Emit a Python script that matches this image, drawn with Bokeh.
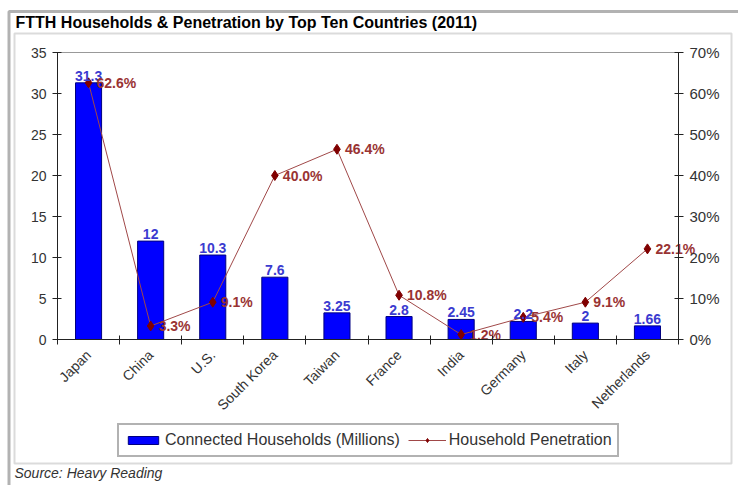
from math import pi
from bokeh.plotting import figure
from bokeh.models import (Range1d, LinearAxis, FixedTicker, PrintfTickFormatter,
                          Label, BoxAnnotation, Legend, LegendItem, ColumnDataSource)
from bokeh.core.properties import value
from bokeh.embed import file_html
from bokeh.resources import INLINE

countries = ["Japan", "China", "U.S.", "South Korea", "Taiwan", "France",
             "India", "Germany", "Italy", "Netherlands"]
households = [31.3, 12, 10.3, 7.6, 3.25, 2.8, 2.45, 2.2, 2, 1.66]
household_labels = ["31.3", "12", "10.3", "7.6", "3.25", "2.8", "2.45", "2.2", "2", "1.66"]
penetration = [62.6, 3.3, 9.1, 40.0, 46.4, 10.8, 1.2, 5.4, 9.1, 22.1]
penetration_labels = ["62.6%", "3.3%", "9.1%", "40.0%", "46.4%", "10.8%",
                      "1.2%", "5.4%", "9.1%", "22.1%"]
left_ticks = [0, 5, 10, 15, 20, 25, 30, 35]
right_ticks = [0, 10, 20, 30, 40, 50, 60, 70]

FONT = "Liberation Sans"
W, H = 738, 485
xs = list(range(len(countries)))

# pixel geometry of the plot area inside the canvas
PL, PR, PT, PB = 57.0, 678.0, 52.0, 339.0
n = len(countries)
cw = (PR - PL) / n            # px per category
uy = (PB - PT) / 35.0         # px per left-axis unit
x0 = -0.5 - PL / cw
x1 = n - 0.5 + (W - PR) / cw
y0 = -(H - PB) / uy
y1 = 35 + PT / uy


def sy(page_y):
    return H - page_y


src = ColumnDataSource(data=dict(x=xs, hh=households, hhl=household_labels,
                                 pen=penetration, penl=penetration_labels))

p = figure(width=W, height=H, output_backend="svg", toolbar_location=None,
           title=None, x_range=Range1d(x0, x1), y_range=Range1d(y0, y1),
           min_border=0)
p.extra_y_ranges = {"pct": Range1d(2 * y0, 2 * y1)}
p.background_fill_color = "white"
p.border_fill_color = "white"
p.outline_line_color = None
p.xgrid.visible = False
p.ygrid.visible = False

# left axis
ya = p.yaxis[0]
ya.fixed_location = -0.5
ya.bounds = (0, 35)
ya.ticker = FixedTicker(ticks=left_ticks)
ya.major_tick_in = 4
ya.major_tick_out = 5
ya.minor_tick_line_color = None
ya.axis_line_color = "#222222"
ya.major_tick_line_color = "#222222"
ya.major_label_text_font = FONT
ya.major_label_text_font_size = "14px"
ya.major_label_text_color = "#333333"
ya.major_label_standoff = 6

# right axis
ra = LinearAxis(y_range_name="pct", ticker=FixedTicker(ticks=right_ticks),
                formatter=PrintfTickFormatter(format="%d%%"),
                fixed_location=n - 0.5, bounds=(0, 70))
ra.major_tick_in = 4
ra.major_tick_out = 5
ra.minor_tick_line_color = None
ra.axis_line_color = "#222222"
ra.major_tick_line_color = "#222222"
ra.major_label_text_font = FONT
ra.major_label_text_font_size = "15px"
ra.major_label_text_color = "#333333"
ra.major_label_standoff = 6
p.add_layout(ra, "right")

# x axis
xa = p.xaxis[0]
xa.fixed_location = 0
xa.bounds = (-0.5, n - 0.5)
xa.ticker = FixedTicker(ticks=xs, minor_ticks=[i - 0.5 for i in range(n + 1)])
xa.major_label_overrides = {i: c for i, c in enumerate(countries)}
xa.major_tick_line_color = None
xa.major_tick_in = 0
xa.major_tick_out = 0
xa.minor_tick_in = 4
xa.minor_tick_out = 5
xa.minor_tick_line_color = "#222222"
xa.axis_line_color = "#222222"
xa.major_label_orientation = pi / 4
xa.major_label_text_font = FONT
xa.major_label_text_font_size = "14px"
xa.major_label_text_color = "#333333"
xa.major_label_standoff = 8

# top border of plot area
ta = LinearAxis(fixed_location=35, bounds=(-0.5, n - 0.5),
                ticker=FixedTicker(ticks=[]), axis_line_color="#999999",
                major_tick_line_color=None, minor_tick_line_color=None,
                major_label_text_font_size="0px")
p.add_layout(ta, "above")

# frames
p.add_layout(BoxAnnotation(left=14, right=731, bottom=sy(463), top=sy(33),
                           left_units="screen", right_units="screen",
                           bottom_units="screen", top_units="screen",
                           fill_alpha=0, line_color="#888888", line_width=2,
                           level="underlay"))
p.add_layout(BoxAnnotation(left=8.5, right=W + 20, bottom=-40, top=sy(11),
                           left_units="screen", right_units="screen",
                           bottom_units="screen", top_units="screen",
                           fill_alpha=0, line_color="black", line_width=3,
                           level="underlay"))

bars = p.vbar(x="x", top="hh", width=0.42, source=src,
              fill_color="#0000ff", line_color="#000080", line_width=1)
line = p.line(x="x", y="pen", source=src, y_range_name="pct",
              line_color="#a04848", line_width=1)
marks = p.scatter(x="x", y="pen", source=src, y_range_name="pct", marker="diamond",
                  size=10, fill_color="#800000", line_color="#800000")

p.text(x="x", y="hh", text="hhl", source=src, text_font=value(FONT),
       text_font_size="14px", text_font_style="bold", text_color="#3b3bd0",
       text_align="center", text_baseline="bottom", y_offset=-2)
p.text(x="x", y="pen", text="penl", source=src, y_range_name="pct",
       text_font=value(FONT), text_font_size="14px", text_font_style="bold",
       text_color="#993333", text_align="left", text_baseline="middle", x_offset=8)

p.add_layout(Label(x=15, y=sy(22), x_units="screen", y_units="screen",
                   text="FTTH Households & Penetration by Top Ten Countries (2011)",
                   text_font=FONT, text_font_size="16px", text_font_style="bold",
                   text_color="black", text_baseline="middle"))
p.add_layout(Label(x=14, y=sy(472), x_units="screen", y_units="screen",
                   text="Source: Heavy Reading", text_font=FONT,
                   text_font_size="14px", text_font_style="italic",
                   text_color="#333333", text_baseline="middle"))

legend = Legend(items=[LegendItem(label="Connected Households (Millions)", renderers=[bars]),
                       LegendItem(label="Household Penetration", renderers=[line, marks])],
                orientation="horizontal", location=(117, sy(457)),
                padding=5, spacing=8, margin=0, label_standoff=3,
                glyph_width=38, glyph_height=10, label_height=20,
                label_text_font=FONT, label_text_font_size="16px",
                label_text_color="#333333", border_line_color="#666666",
                border_line_width=2, background_fill_color="white",
                background_fill_alpha=1)
p.add_layout(legend, "center")

open("out.html", "w").write(file_html(p, INLINE))
